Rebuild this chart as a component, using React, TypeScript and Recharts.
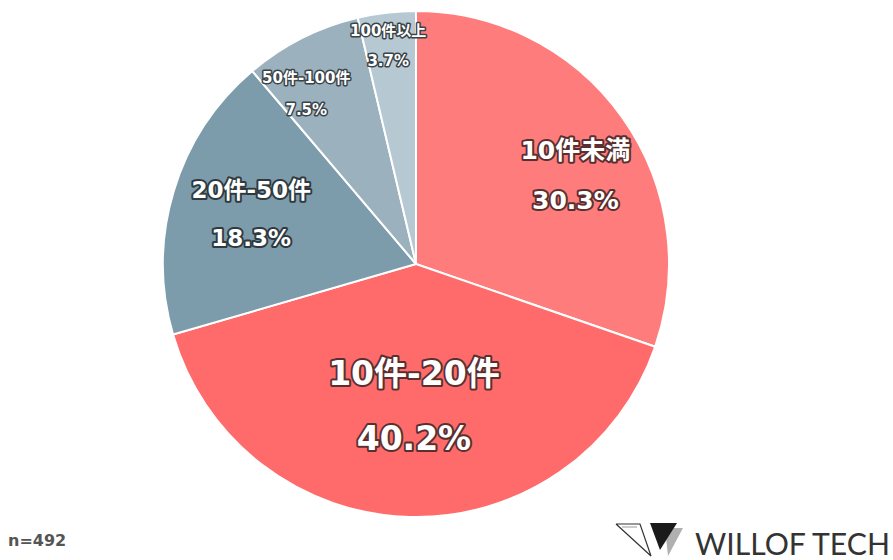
import React from "react";
import { PieChart, Pie, Cell } from "recharts";

const categories = ["10件未満", "10件-20件", "20件-50件", "50件-100件", "100件以上"];
const shares = [30.3, 40.2, 18.3, 7.5, 3.7];
const percentLabels = ["30.3%", "40.2%", "18.3%", "7.5%", "3.7%"];
const sampleLabel = "n=492";
const brandLabel = "WILLOF TECH";

const colors = ["#FF7C7C", "#FF6B6B", "#7D9CAB", "#9BB1BD", "#B6C8D2"];
const outlineColors = ["#5a2f2f", "#5a2f2f", "#2f3a40", "#3a4348", "#3a4348"];
// label placement styling: radius factor, angle nudge (deg), font size, line gap
const labelRadius = [0.72, 0.56, 0.68, 0.8, 0.87];
const labelNudge = [-6.5, 0.6, 0, 6, 0.6];
const labelFont = [25, 33, 23, 15, 15];
const labelGap = [50, 65, 48, 32, 30];

const data = categories.map((name, i) => ({ name, value: shares[i], pct: percentLabels[i] }));

const RAD = Math.PI / 180;
const FONT = "'DejaVu Sans', 'Noto Sans CJK JP', sans-serif";

const renderLabel = (props: any) => {
  const { cx, cy, midAngle, outerRadius, index } = props;
  const r = outerRadius * labelRadius[index];
  const a = (midAngle + labelNudge[index]) * RAD;
  const x = cx + r * Math.cos(a);
  const y = cy - r * Math.sin(a);
  const fs = labelFont[index];
  const gap = labelGap[index];
  const sw = fs > 18 ? 4 : 3;
  const common = {
    x,
    textAnchor: "middle" as const,
    dominantBaseline: "central" as const,
    fontFamily: FONT,
    fontWeight: 700,
    fontSize: fs,
    fill: "#ffffff",
    stroke: outlineColors[index],
    strokeWidth: sw,
    strokeLinejoin: "round" as const,
    paintOrder: "stroke",
  };
  return (
    <g key={`lbl-${index}`}>
      <text {...common} y={y - gap / 2}>{data[index].name}</text>
      <text {...common} y={y + gap / 2}>{data[index].pct}</text>
    </g>
  );
};

export default function App() {
  return (
    <div style={{ position: "absolute", left: 0, top: 0, width: 893, height: 560, background: "#fff" }}>
      <PieChart width={893} height={560} margin={{ top: 0, right: 0, bottom: 0, left: 0 }}>
        <Pie
          data={data}
          dataKey="value"
          nameKey="name"
          cx={416}
          cy={264}
          outerRadius={253}
          startAngle={90}
          endAngle={-270}
          stroke="#ffffff"
          strokeWidth={2}
          label={renderLabel}
          labelLine={false}
          isAnimationActive={false}
        >
          {data.map((d, i) => (
            <Cell key={d.name} fill={colors[i]} />
          ))}
        </Pie>
      </PieChart>
      <svg width={893} height={560} style={{ position: "absolute", left: 0, top: 0, pointerEvents: "none" }}>
        <text x={8} y={546} fontFamily={FONT} fontWeight={700} fontSize={16} fill="#555">
          {sampleLabel}
        </text>
        <g>
          <polyline points="616,524 640,524 651,556 616,524" fill="none" stroke="#333" strokeWidth={1.2} />
          <polyline points="622,527 637,527" fill="none" stroke="#999" strokeWidth={1} />
          <polygon points="665,528 683,528 668,556" fill="#b0b0b0" />
          <polygon points="650,523 677,523 660,550" fill="#1a1a1a" />
        </g>
        <text x={695} y={555} fontFamily="Lato, sans-serif" fontWeight={400} fontSize={30} fill="#333" textLength={195} lengthAdjust="spacingAndGlyphs">
          {brandLabel}
        </text>
      </svg>
    </div>
  );
}
